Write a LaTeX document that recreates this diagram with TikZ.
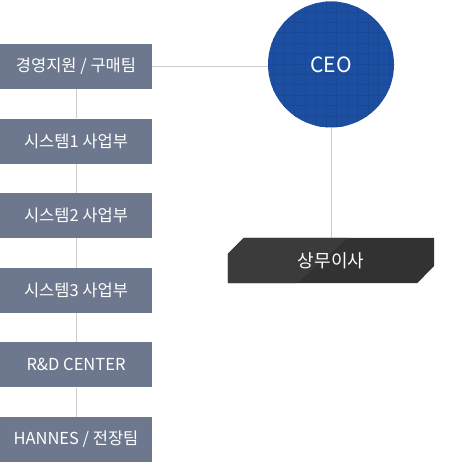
\documentclass[tikz,border=0pt]{standalone}
\usepackage{fontspec}
\newfontfamily\kr{Noto Sans CJK KR}
\usetikzlibrary{calc}
\definecolor{boxgray}{HTML}{6D788E}
\definecolor{linegray}{HTML}{CCCCCC}
\definecolor{ceoblue}{HTML}{1C4FA1}
\definecolor{ceogrid}{HTML}{194995}
\definecolor{darkA}{HTML}{3B3B3B}
\definecolor{darkB}{HTML}{323232}
\tikzset{
  dept/.style={fill=boxgray, draw=none, minimum width=152pt, minimum height=45pt,
    inner sep=0pt, text=white, font=\kr\fontsize{16.5}{19}\selectfont},
  conn/.style={draw=linegray, line width=0.9pt},
}
\begin{document}
\begin{tikzpicture}[x=1pt,y=-1pt]
\useasboundingbox (0,0) rectangle (457,470);
% nodes
\node[dept] (b1) at (76,66.5) {경영지원 / 구매팀};
\node[dept] (b2) at (76,141.1) {시스템1 사업부};
\node[dept] (b3) at (76,215.7) {시스템2 사업부};
\node[dept] (b4) at (76,290.3) {시스템3 사업부};
\node[dept] (b5) at (76,364.9) {R\&D CENTER};
\node[dept] (b6) at (76,439.5) {HANNES / 전장팀};
\node[circle, minimum size=126pt, inner sep=0pt] (ceo) at (331,64.5) {};
\node[minimum width=206pt, minimum height=45pt, inner sep=0pt] (vp) at (331,260.5) {};
% connectors
\draw[conn] (b1.east) -- (b1.east -| ceo.center);
\draw[conn] (ceo.center) -- (vp.north);
\foreach \a/\b in {b1/b2,b2/b3,b3/b4,b4/b5,b5/b6} \draw[conn] (\a.south) -- (\b.north);
% CEO circle
\fill[ceoblue] (ceo.center) circle (63);
\begin{scope}
  \clip (ceo.center) circle (63);
  \foreach \k in {-7,...,7} {
    \draw[ceogrid, line width=0.9pt] ($(ceo.center)+(-5+\k*10.5,-70)$) -- ++(0,140);
    \draw[ceogrid, line width=0.9pt] ($(ceo.center)+(-70,-0.5+\k*10.4)$) -- ++(140,0);
  }
\end{scope}
\node[text=white, font=\kr\fontsize{21}{24}\selectfont] at (ceo.center) {CEO};
% VP box
\fill[darkB] ($(vp.south west)$) -- ($(vp.north west)+(0,16)$) -- ($(vp.north west)+(16,0)$)
  -- (vp.north east) -- ($(vp.north east)+(0,28)$) -- ($(vp.south east)+(-17,0)$) -- cycle;
\fill[darkA] ($(vp.south west)$) -- ($(vp.north west)+(0,16)$) -- ($(vp.north west)+(16,0)$)
  -- ($(vp.north west)+(120,0)$) -- ($(vp.south west)+(69,0)$) -- cycle;
\node[text=white, font=\kr\fontsize{18}{21}\selectfont] at (vp.center) {상무이사};
\end{tikzpicture}
\end{document}
